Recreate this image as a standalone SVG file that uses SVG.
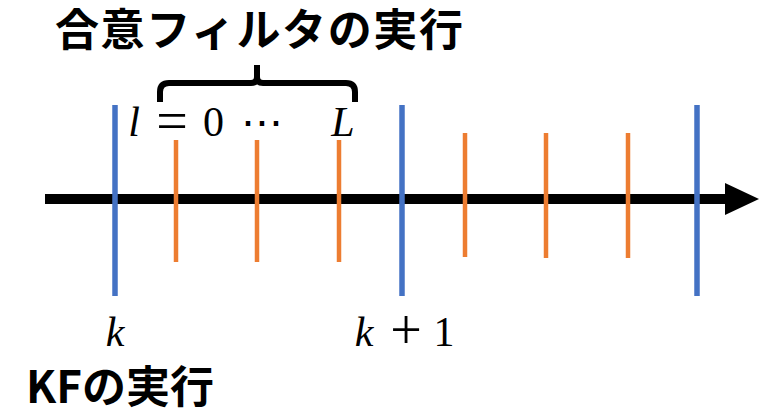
<svg xmlns="http://www.w3.org/2000/svg" width="766" height="408" viewBox="0 0 766 408">
  <style>
    .jp { font-family: "Noto Sans CJK JP", "Noto Sans", sans-serif; font-weight: bold; font-size: 44px; fill: #000; }
    .mi { font-family: "Liberation Serif", "DejaVu Serif", serif; font-style: italic; font-size: 42px; fill: #000; text-anchor: middle; }
    .mr { font-family: "Liberation Serif", "DejaVu Serif", serif; font-size: 42px; fill: #000; text-anchor: middle; }
    .op { font-family: "Liberation Serif", "DejaVu Serif", serif; font-size: 56px; fill: #000; text-anchor: middle; }
    .kf { stroke: #4472C4; stroke-width: 5.5; }
    .cf { stroke: #ED7D31; stroke-width: 4.5; }
  </style>
  <rect width="766" height="408" fill="#fff"/>
  <g id="connectors">
    <g id="timeline">
      <rect x="45" y="194" width="682" height="10" fill="#000"/>
      <polygon points="725,183 759,199 725,215" fill="#000"/>
    </g>
    <g id="brace">
      <path d="M160,102 V92 Q160,83 169,83 H251 Q257,83 257,77 V65 M257,77 Q257,83 263,83 H346 Q355,83 355,92 V102" fill="none" stroke="#000" stroke-width="6"/>
    </g>
  </g>
  <g id="kf-ticks">
    <line class="kf" x1="115" y1="105" x2="115" y2="296"/>
    <line class="kf" x1="402" y1="105" x2="402" y2="296"/>
    <line class="kf" x1="697" y1="105" x2="697" y2="296"/>
  </g>
  <g id="consensus-ticks">
    <line class="cf" x1="176" y1="140" x2="176" y2="262"/>
    <line class="cf" x1="257" y1="140" x2="257" y2="262"/>
    <line class="cf" x1="339" y1="140" x2="339" y2="262"/>
    <line class="cf" x1="465" y1="133" x2="465" y2="257"/>
    <line class="cf" x1="546" y1="133" x2="546" y2="258"/>
    <line class="cf" x1="628" y1="133" x2="628" y2="258"/>
  </g>
  <g id="title">
    <text class="jp" x="55" y="46" letter-spacing="1.6">合意フィルタの実行</text>
  </g>
  <g id="range-label">
    <text class="mi" x="134" y="136">l</text>
    <text class="op" x="172" y="139.5">=</text>
    <text class="mr" x="213.5" y="136">0</text>
    <text class="mr" x="262" y="136">⋯</text>
    <text class="mi" x="343" y="136">L</text>
  </g>
  <g id="label-k">
    <text class="mi" x="115" y="346">k</text>
  </g>
  <g id="label-k1">
    <text class="mi" x="364" y="346">k</text>
    <text class="op" x="406" y="348.5">+</text>
    <text class="mr" x="444" y="346">1</text>
  </g>
  <g id="kf-label">
    <text class="jp" x="26" y="403">KFの実行</text>
  </g>
</svg>
